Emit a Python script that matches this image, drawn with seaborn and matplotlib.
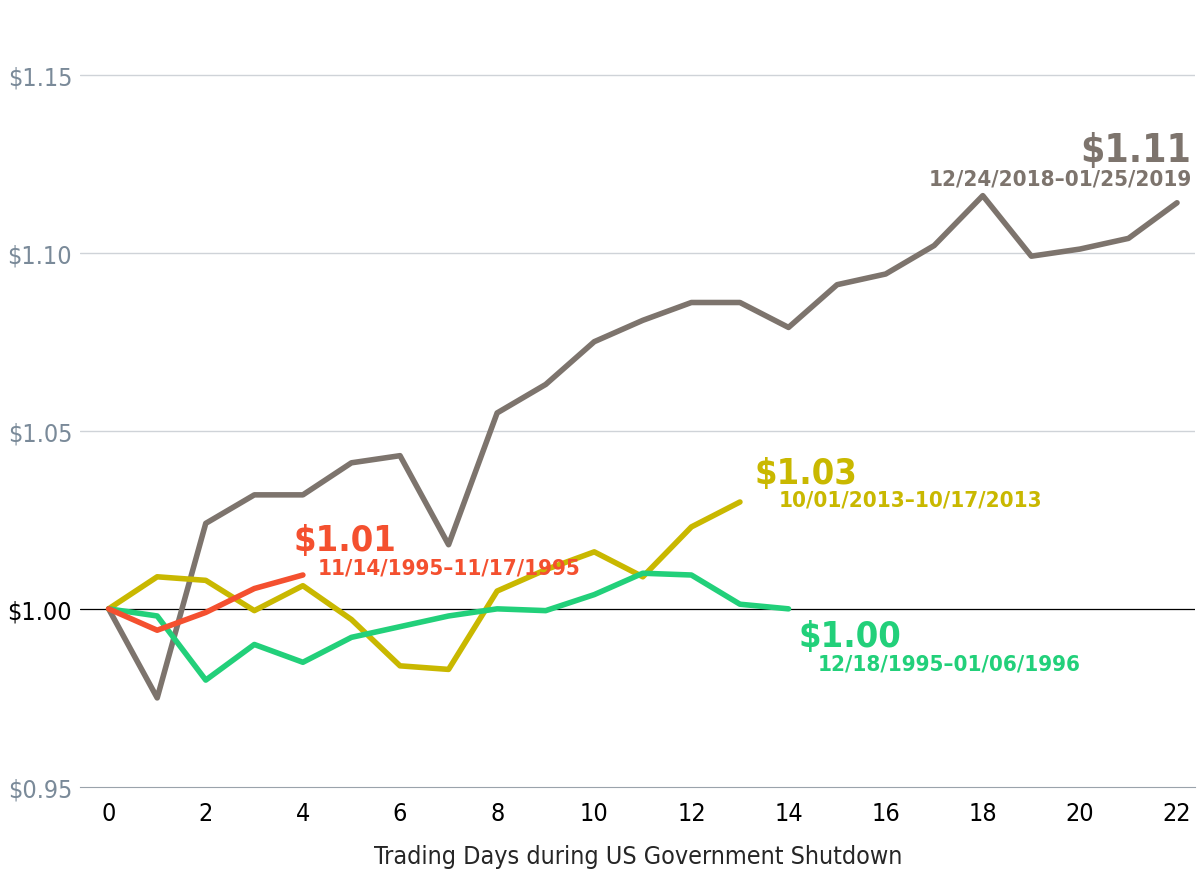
import matplotlib
matplotlib.use("Agg")
import matplotlib.pyplot as plt
import seaborn as sns
import pandas as pd

gray_vals = [1.000,0.975,1.024,1.032,1.032,1.041,1.043,1.018,1.055,1.063,1.075,1.081,1.086,1.086,1.079,1.091,1.094,1.102,1.116,1.099,1.101,1.104,1.114]
yellow_vals = [1.000,1.009,1.008,0.9995,1.0065,0.997,0.984,0.983,1.005,1.011,1.016,1.009,1.023,1.030]
green_vals = [1.000,0.998,0.980,0.990,0.985,0.992,0.995,0.998,1.000,0.9995,1.004,1.010,1.0095,1.0013,1.000]
red_vals = [1.000,0.994,0.999,1.0057,1.0095]

series = [
    ("12/24/2018–01/25/2019", gray_vals, "#7d746d", "$1.11"),
    ("10/01/2013–10/17/2013", yellow_vals, "#c9b800", "$1.03"),
    ("12/18/1995–01/06/1996", green_vals, "#22d07a", "$1.00"),
    ("11/14/1995–11/17/1995", red_vals, "#f4502f", "$1.01"),
]
rows = []
for name, vals, c, lab in series:
    for i, v in enumerate(vals):
        rows.append({"day": i, "value": v, "period": name})
df = pd.DataFrame(rows)

sns.set_style("white")
plt.rcParams['font.family'] = ['DejaVu Sans']
plt.rcParams['font.stretch'] = 'condensed'
fig = plt.figure(figsize=(12.01, 8.95), dpi=100)
ax = fig.add_axes([0.067, 0.1196, 0.928, 0.8804])
pal = {n: c for n, _, c, _ in series}
sns.lineplot(data=df, x="day", y="value", hue="period", palette=pal, lw=4, ax=ax, legend=False)
ax.set_xlim(-0.58, 22.37)
ax.set_ylim(0.95, 1.1712)
ax.set_yticks([0.95, 1.00, 1.05, 1.10, 1.15])
ax.set_yticklabels(["$0.95", "$1.00", "$1.05", "$1.10", "$1.15"])
ax.set_xticks(range(0, 23, 2))
for y in [1.05, 1.10, 1.15]:
    ax.axhline(y, color="#cfd3d8", lw=1, zorder=0)
ax.axhline(1.0, color="black", lw=0.9, zorder=0)
for s in ["top", "right", "left"]:
    ax.spines[s].set_visible(False)
ax.spines["bottom"].set_color("#9aa3ab")
ax.tick_params(axis="y", length=0, labelsize=18, pad=6)
for t in ax.get_yticklabels():
    t.set_color("#7a8a99")
ax.get_yticklabels()[1].set_color("black")
ax.tick_params(axis="x", length=0, labelsize=18, pad=10, labelcolor="black")
ax.set_xlabel("Trading Days during US Government Shutdown", fontsize=18, labelpad=14)
ax.set_ylabel("")

ax.text(22.3, 1.1235, "$1.11", color="#7d746d", fontsize=28, fontweight="bold", ha="right", va="bottom")
ax.text(22.3, 1.1235, "12/24/2018–01/25/2019", color="#7d746d", fontsize=16, fontweight="bold", ha="right", va="top")
ax.text(13.3, 1.0335, "$1.03", color="#c9b800", fontsize=26, fontweight="bold", ha="left", va="bottom")
ax.text(13.8, 1.0335, "10/01/2013–10/17/2013", color="#c9b800", fontsize=16, fontweight="bold", ha="left", va="top")
ax.text(14.2, 0.9875, "$1.00", color="#22d07a", fontsize=26, fontweight="bold", ha="left", va="bottom")
ax.text(14.6, 0.9875, "12/18/1995–01/06/1996", color="#22d07a", fontsize=16, fontweight="bold", ha="left", va="top")
ax.text(3.8, 1.0145, "$1.01", color="#f4502f", fontsize=26, fontweight="bold", ha="left", va="bottom")
ax.text(4.3, 1.0145, "11/14/1995–11/17/1995", color="#f4502f", fontsize=16, fontweight="bold", ha="left", va="top")

fig.savefig("out.png", dpi=100)
